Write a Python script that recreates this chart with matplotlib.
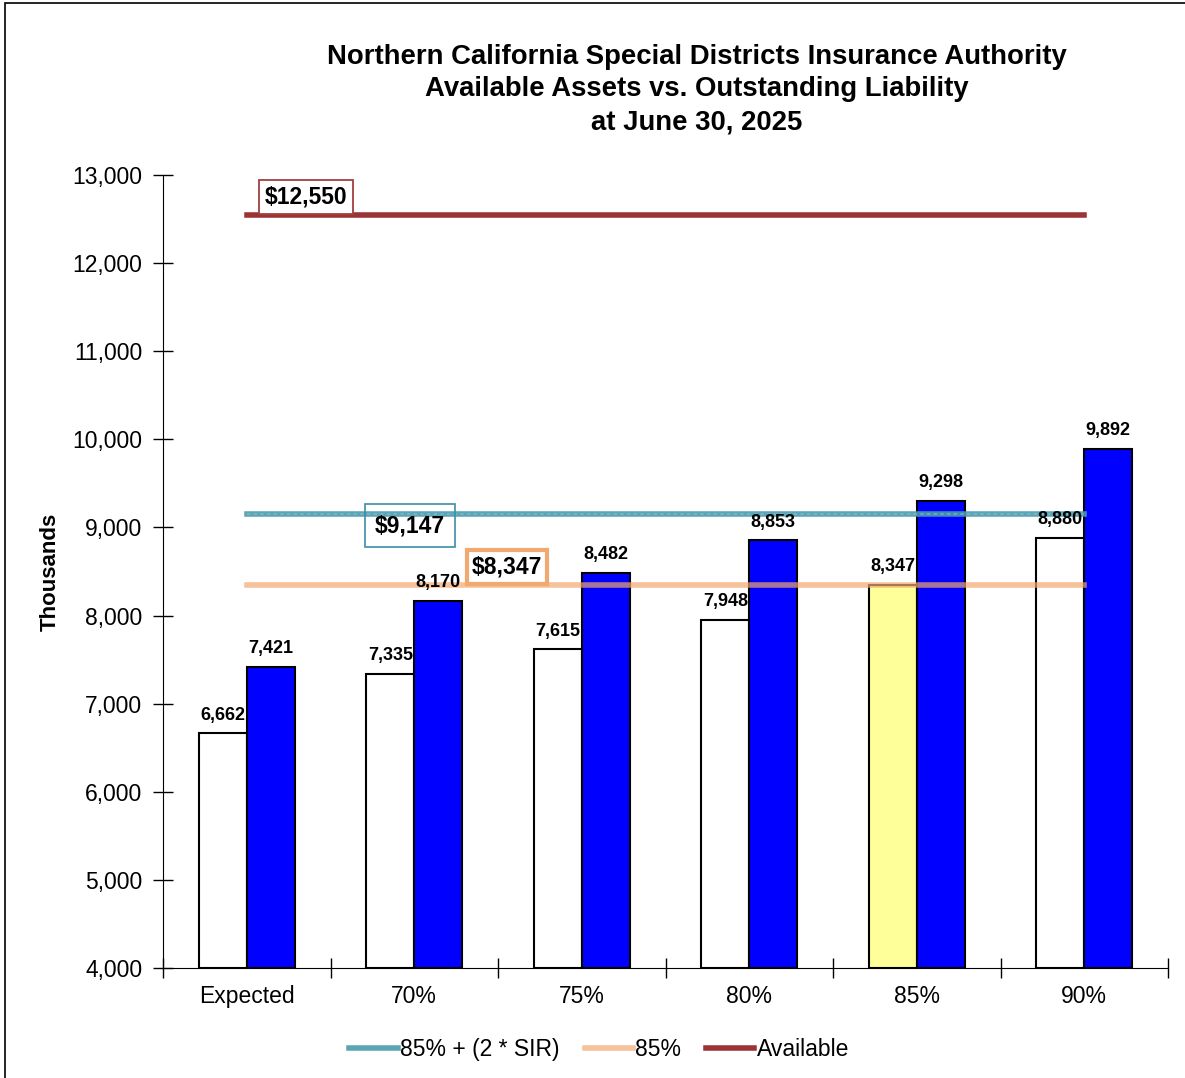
import matplotlib.pyplot as plt
import matplotlib.patches as mpatches
import numpy as np

categories = ["Expected", "70%", "75%", "80%", "85%", "90%"]
liability = [6662, 7335, 7615, 7948, 8347, 8880]
liability_sir = [7421, 8170, 8482, 8853, 9298, 9892]
available = 12550
level_85_sir = 9147
level_85 = 8347

plt.rcParams['font.family'] = ['Liberation Sans', 'DejaVu Sans']

fig = plt.figure(figsize=(11.85, 10.78), dpi=100)
ax = fig.add_axes([0.1376, 0.102, 0.8481, 0.7357])

x = np.arange(len(categories))
w = 0.287
white_colors = ['white'] * len(categories)
white_colors[4] = '#ffff99'
ax.bar(x - w / 2, [v - 4000 for v in liability], w, bottom=4000, color=white_colors,
       edgecolor='black', linewidth=1.5, zorder=2)
ax.bar(x + w / 2, [v - 4000 for v in liability_sir], w, bottom=4000, color='#0000ff',
       edgecolor='black', linewidth=1.5, zorder=2)

for i in range(len(categories)):
    ax.text(x[i] - w / 2, liability[i] + 110, "{:,}".format(liability[i]), ha='center', va='bottom',
            fontsize=13, fontweight='bold', zorder=5)
    ax.text(x[i] + w / 2, liability_sir[i] + 110, "{:,}".format(liability_sir[i]), ha='center', va='bottom',
            fontsize=13, fontweight='bold', zorder=5)

# lines, with a light dashed texture on top like the original
ax.plot([x[0], x[-1]], [level_85_sir] * 2, color='#4a9bb0', lw=4, alpha=0.9, zorder=4,
        label='85% + (2 * SIR)')
ax.plot([x[0], x[-1]], [level_85_sir] * 2, color='#8cc3d3', lw=1.2, ls=(0, (2, 2)), alpha=0.6, zorder=4)
ax.plot([x[0], x[-1]], [level_85] * 2, color='#f2a970', lw=4, alpha=0.7, zorder=4, label='85%')
ax.plot([x[0], x[-1]], [available] * 2, color='#9b3535', lw=4, zorder=4, label='Available')

ax.text(0.354, 12751, "${:,}".format(available), fontsize=16.5, fontweight='bold', ha='center', va='center',
        bbox=dict(boxstyle='square,pad=0.25', fc='white', ec='#a04040', lw=1.3), zorder=6)
ax.text(0.975, 9020, "${:,}".format(level_85_sir), fontsize=16.5, fontweight='bold', ha='center', va='center',
        bbox=dict(boxstyle='square,pad=0.43', fc='none', ec='#3b8ea5', lw=1.2), zorder=6)
ax.text(1.554, 8551, "${:,}".format(level_85), fontsize=16.5, fontweight='bold', ha='center', va='center',
        bbox=dict(boxstyle='square,pad=0.22', fc='white', ec='#f2a970', lw=3), zorder=6)

ax.set_xlim(-0.5, len(categories) - 0.5)
ax.set_ylim(4000, 13000)
ax.set_yticks(range(4000, 13001, 1000))
ax.set_yticklabels(["{:,}".format(v) for v in range(4000, 13001, 1000)], fontsize=16.5)
ax.set_xticks(np.arange(-0.5, len(categories), 1.0))
ax.set_xticks(x, minor=True)
ax.set_xticklabels([])
ax.set_xticklabels(categories, minor=True, fontsize=16.5)
ax.tick_params(axis='x', which='minor', length=0, pad=12)
ax.tick_params(axis='x', which='major', direction='inout', length=14, width=1)
ax.tick_params(axis='y', direction='inout', length=14, width=1, pad=8)
for s in ['top', 'right']:
    ax.spines[s].set_visible(False)
ax.set_ylabel('Thousands', fontsize=16, fontweight='bold', labelpad=8)

fig.text(0.588, 0.917, "Northern California Special Districts Insurance Authority\n"
         "Available Assets vs. Outstanding Liability\nat June 30, 2025",
         ha='center', va='center', fontsize=19.8, fontweight='bold', linespacing=1.33)

ax.legend(loc='upper center', bbox_to_anchor=(0.434, -0.062), ncol=3, frameon=False, fontsize=16.5,
          handlelength=2.1, handletextpad=0.1, columnspacing=1.1)

fig.patches.append(mpatches.Rectangle((0.004, -0.01), 1.1, 1.007, transform=fig.transFigure,
                                      fill=False, ec='black', lw=1.2))

fig.savefig("out.png", dpi=100)
